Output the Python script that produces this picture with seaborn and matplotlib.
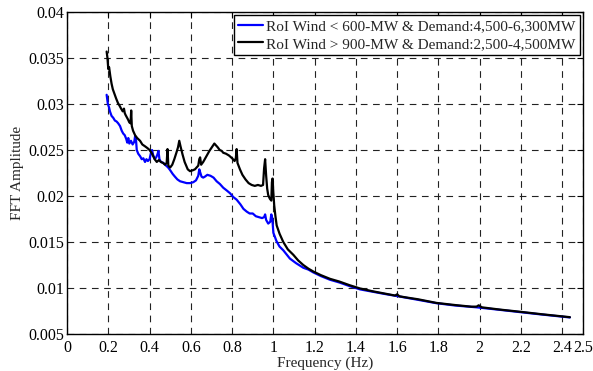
import seaborn as sns
import pandas as pd
import matplotlib.pyplot as plt

# RoI Wind < 600-MW & Demand:4,500-6,300MW
freq_low = [0.192, 0.198, 0.204, 0.208, 0.216, 0.224, 0.232, 0.240, 0.248, 0.257,
            0.265, 0.272, 0.280, 0.287, 0.292, 0.297, 0.302, 0.310, 0.318, 0.326,
            0.330, 0.334, 0.338, 0.345, 0.355, 0.362, 0.370, 0.378, 0.385, 0.392,
            0.400, 0.406, 0.412, 0.418, 0.425, 0.432, 0.438, 0.443, 0.448, 0.455,
            0.467, 0.480, 0.490, 0.500, 0.512, 0.523, 0.535, 0.548, 0.564, 0.580,
            0.596, 0.612, 0.625, 0.636, 0.641, 0.645, 0.652, 0.660, 0.668, 0.680,
            0.695, 0.710, 0.725, 0.741, 0.757, 0.774, 0.790, 0.805, 0.822, 0.840,
            0.855, 0.871, 0.885, 0.900, 0.915, 0.930, 0.945, 0.955, 0.960, 0.965,
            0.975, 0.985, 0.990, 0.995, 1.000, 1.015, 1.030, 1.048, 1.080, 1.110,
            1.145, 1.170, 1.193, 1.230, 1.274, 1.320, 1.370, 1.420, 1.480, 1.540,
            1.600, 1.650, 1.700, 1.790, 1.880, 1.985, 2.100, 2.195, 2.300, 2.437]
amp_low = [0.0310, 0.0300, 0.0296, 0.0292, 0.0287, 0.0285, 0.0282, 0.0281, 0.0279, 0.0276,
           0.0271, 0.0268, 0.0266, 0.0262, 0.0258, 0.0263, 0.0257, 0.0260, 0.0256, 0.0259,
           0.0265, 0.0262, 0.0250, 0.0246, 0.0243, 0.0240, 0.0241, 0.0237, 0.0240, 0.0238,
           0.0240, 0.0246, 0.0250, 0.0244, 0.0240, 0.0242, 0.0245, 0.0249, 0.0240, 0.0237,
           0.0236, 0.0233, 0.0231, 0.0228, 0.0224, 0.0221, 0.0218, 0.0216, 0.0215, 0.0214,
           0.0214, 0.0215, 0.0217, 0.0222, 0.0229, 0.0226, 0.0221, 0.0220, 0.0221, 0.0223,
           0.0222, 0.0220, 0.0216, 0.0213, 0.0209, 0.0206, 0.0203, 0.0199, 0.0196, 0.0191,
           0.0186, 0.0183, 0.0181, 0.0181, 0.0178, 0.0177, 0.0176, 0.0177, 0.0180, 0.0174,
           0.0170, 0.0172, 0.0180, 0.0175, 0.0160, 0.0151, 0.0145, 0.0141, 0.0132, 0.0127,
           0.0122, 0.0120, 0.0117, 0.0113, 0.0109, 0.0106, 0.0102, 0.00985, 0.00960, 0.00935,
           0.00912, 0.00892, 0.00872, 0.00835, 0.00810, 0.00790, 0.00762, 0.00738, 0.00712, 0.00680]

# RoI Wind > 900-MW & Demand:2,500-4,500MW
freq_high = [0.192, 0.196, 0.200, 0.204, 0.210, 0.216, 0.222, 0.230, 0.238, 0.247,
             0.255, 0.262, 0.270, 0.276, 0.280, 0.284, 0.289, 0.296, 0.302, 0.308,
             0.311, 0.314, 0.320, 0.330, 0.340, 0.354, 0.365, 0.378, 0.390, 0.400,
             0.412, 0.425, 0.435, 0.445, 0.455, 0.465, 0.475, 0.483, 0.487, 0.491,
             0.495, 0.500, 0.510, 0.520, 0.530, 0.538, 0.544, 0.550, 0.560, 0.570,
             0.585, 0.596, 0.610, 0.620, 0.628, 0.636, 0.641, 0.645, 0.650, 0.660,
             0.675, 0.690, 0.705, 0.714, 0.722, 0.730, 0.740, 0.750, 0.757, 0.770,
             0.785, 0.800, 0.812, 0.818, 0.822, 0.826, 0.838, 0.850, 0.865, 0.880,
             0.895, 0.910, 0.925, 0.940, 0.950, 0.955, 0.960, 0.965, 0.970, 0.975,
             0.983, 0.990, 0.993, 0.996, 1.000, 1.004, 1.010, 1.016, 1.030, 1.048,
             1.070, 1.097, 1.120, 1.145, 1.170, 1.193, 1.230, 1.274, 1.320, 1.370,
             1.420, 1.480, 1.540, 1.590, 1.600, 1.610, 1.650, 1.700, 1.790, 1.880,
             1.960, 1.985, 1.995, 2.010, 2.100, 2.195, 2.300, 2.437]
amp_high = [0.0357, 0.0350, 0.0338, 0.0340, 0.0330, 0.0322, 0.0316, 0.0311, 0.0306, 0.0301,
            0.0298, 0.0295, 0.0292, 0.0295, 0.0290, 0.0288, 0.0286, 0.0283, 0.0280, 0.0279,
            0.0293, 0.0276, 0.0271, 0.0266, 0.0263, 0.0260, 0.0256, 0.0254, 0.0252, 0.0250,
            0.0246, 0.0240, 0.0237, 0.0239, 0.0237, 0.0236, 0.0234, 0.0236, 0.0251, 0.0233,
            0.0232, 0.0231, 0.0234, 0.0240, 0.0247, 0.0253, 0.0260, 0.0254, 0.0245, 0.0237,
            0.0229, 0.0227, 0.0228, 0.0229, 0.0231, 0.0233, 0.0240, 0.0242, 0.0234, 0.0237,
            0.0243, 0.0249, 0.0254, 0.0257, 0.0255, 0.0253, 0.0250, 0.0249, 0.0247, 0.0246,
            0.0244, 0.0241, 0.0238, 0.0241, 0.0251, 0.0236, 0.0229, 0.0223, 0.0218, 0.0214,
            0.0212, 0.0211, 0.0212, 0.0211, 0.0212, 0.0230, 0.0240, 0.0222, 0.0208, 0.0201,
            0.0197, 0.0195, 0.0215, 0.0219, 0.0203, 0.0190, 0.0178, 0.0168, 0.0159, 0.0150,
            0.0142, 0.0136, 0.0130, 0.0125, 0.0121, 0.0118, 0.0114, 0.0110, 0.0107, 0.0103,
            0.00995, 0.00965, 0.00940, 0.00918, 0.00932, 0.00910, 0.00895, 0.00878, 0.00838, 0.00815,
            0.00797, 0.00798, 0.00812, 0.00790, 0.00765, 0.00742, 0.00715, 0.00683]

labels = ["RoI Wind < 600-MW & Demand:4,500-6,300MW",
          "RoI Wind > 900-MW & Demand:2,500-4,500MW"]

x_ticks = [0, 0.2, 0.4, 0.6, 0.8, 1, 1.2, 1.4, 1.6, 1.8, 2, 2.2, 2.4, 2.5]
x_ticklabels = ["0", "0.2", "0.4", "0.6", "0.8", "1", "1.2", "1.4", "1.6", "1.8",
                "2", "2.2", "2.4", "2.5"]
y_ticks = [0.005, 0.01, 0.015, 0.02, 0.025, 0.03, 0.035, 0.04]
y_ticklabels = ["0.005", "0.01", "0.015", "0.02", "0.025", "0.03", "0.035", "0.04"]

df = pd.concat([
    pd.DataFrame({"freq": freq_low, "amp": amp_low, "case": labels[0]}),
    pd.DataFrame({"freq": freq_high, "amp": amp_high, "case": labels[1]}),
])

sns.set_theme(style="white")
plt.rcParams["font.family"] = ["Liberation Serif", "DejaVu Serif"]
plt.rcParams["font.size"] = 11

fig = plt.figure(figsize=(5.93, 3.71), dpi=100)
ax = fig.add_axes([0.113, 0.0997, 0.870, 0.868])

sns.lineplot(data=df, x="freq", y="amp", hue="case", palette=["#0000ff", "#000000"],
             estimator=None, sort=False, linewidth=1.6, ax=ax)

ax.set_xlim(0, 2.5)
ax.set_ylim(0.005, 0.04)
ax.set_xticks(x_ticks)
ax.set_xticklabels(x_ticklabels)
ax.set_yticks(y_ticks)
ax.set_yticklabels(y_ticklabels)
ax.tick_params(direction="in", length=4, width=0.8, colors="black", labelsize=11.5,
               top=True, right=True)
ax.tick_params(axis="x", pad=4)
ax.tick_params(axis="y", pad=2)
ax.grid(True, linestyle=(0, (6, 5)), color="#222222", linewidth=0.8)
for sp in ax.spines.values():
    sp.set_color("black")
    sp.set_linewidth(1.0)

ax.set_xlabel("Frequency (Hz)", fontsize=11, labelpad=1)
ax.set_ylabel("FFT Amplitude", fontsize=11, labelpad=3)

leg = ax.legend(loc="upper right", frameon=True, fancybox=False, framealpha=1,
                edgecolor="black", fontsize=11, handlelength=1.6, borderpad=0.3,
                labelspacing=0.25, handletextpad=0.2, borderaxespad=0.2)
leg.get_frame().set_linewidth(1.0)

fig.savefig("out.png", dpi=100)
